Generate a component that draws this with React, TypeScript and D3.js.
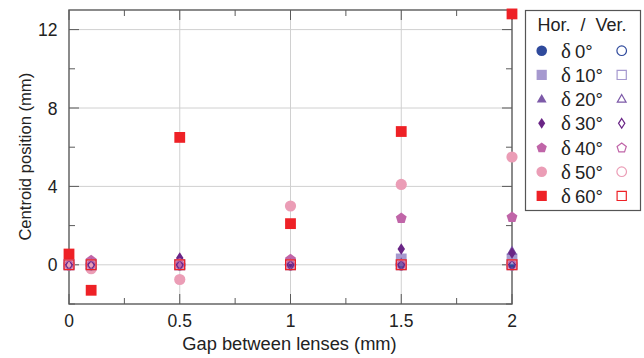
import React from "react";
import * as d3 from "d3";

const gaps = [0, 0.1, 0.5, 1, 1.5, 2];
const labels = ["0°", "10°", "20°", "30°", "40°", "50°", "60°"];
const colors = ["#2f4a9c", "#a699cf", "#7d5aa8", "#6a2586", "#c065a8", "#eb9db6", "#ee2126"];
const shapes = ["circle", "square", "triangle", "diamond", "pentagon", "circle", "square"];
const hor0 = [0, 0, 0, 0, 0, 0];
const hor10 = [0, 0, 0, 0.05, 0.3, 0.3];
const hor20 = [0, 0.1, 0.1, 0.1, 0.1, 0.7];
const hor30 = [0, 0.1, 0.35, 0.1, 0.8, 0.6];
const hor40 = [0, 0.25, 0.1, 0.3, 2.4, 2.45];
const hor50 = [0, -0.2, -0.75, 3.0, 4.1, 5.5];
const hor60 = [0.55, -1.3, 6.5, 2.1, 6.8, 12.8];
const ver0 = [0, 0, 0, 0, 0, 0];
const ver10 = [0, 0, 0, 0, 0, 0];
const ver20 = [0, 0, 0, 0, 0, 0];
const ver30 = [0, 0, 0, 0, 0, 0];
const ver40 = [0, 0, 0, 0, 0, 0];
const ver50 = [0, 0, 0, 0, 0, 0];
const ver60 = [0, 0, 0, 0, 0, 0];
const horSeries = [hor0, hor10, hor20, hor30, hor40, hor50, hor60];
const verSeries = [ver0, ver10, ver20, ver30, ver40, ver50, ver60];
const xMajor = [0, 0.5, 1, 1.5, 2];
const xMinor = [0.25, 0.75, 1.25, 1.75];
const yMajor = [0, 4, 8, 12];
const yMinor = [-2, 2, 6, 10];

const W = 644, H = 358;
const M = { left: 69, right: 512, top: 10, bottom: 304 };

function shapePath(shape: string, r: number): string {
  if (shape === "circle") {
    return `M${r},0A${r},${r},0,1,1,${-r},0A${r},${r},0,1,1,${r},0Z`;
  }
  if (shape === "square") {
    return `M${-r},${-r}H${r}V${r}H${-r}Z`;
  }
  if (shape === "triangle") {
    const h = r * 1.1;
    return `M0,${-h}L${h * 0.95},${h * 0.65}L${-h * 0.95},${h * 0.65}Z`;
  }
  if (shape === "diamond") {
    return `M0,${-r * 1.15}L${r * 0.75},0L0,${r * 1.15}L${-r * 0.75},0Z`;
  }
  const pts = d3.range(5).map((i) => {
    const a = -Math.PI / 2 + (i * 2 * Math.PI) / 5;
    return [r * 1.1 * Math.cos(a), r * 1.1 * Math.sin(a) + r * 0.1];
  });
  return "M" + pts.map((p) => p.join(",")).join("L") + "Z";
}

const sizeFor = (shape: string) =>
  shape === "circle" ? 5.6 : shape === "square" ? 5.4 : shape === "triangle" ? 5 : shape === "diamond" ? 5 : 5.2;

export default function App() {
  const x = d3.scaleLinear().domain([0, 2]).range([M.left, M.right]);
  const y = d3.scaleLinear().domain([-2, 13]).range([M.bottom, M.top]);
  const axisColor = "#5a5a5a";
  const gridColor = "#d0d0d0";
  const font = "'Liberation Sans', Arial, Helvetica, sans-serif";
  const legendRows = labels.map((_, i) => 50.7 + i * 24.2);

  return (
    <svg width={W} height={H} style={{ position: "absolute", left: 0, top: 0, background: "#fff" }} fontFamily={font}>
      {/* grid */}
      {xMajor.filter((v) => v > 0 && v < 2).map((v) => (
        <line key={"gx" + v} x1={x(v)} x2={x(v)} y1={M.top} y2={M.bottom} stroke={gridColor} strokeWidth={1} />
      ))}
      {yMajor.map((v) => (
        <line key={"gy" + v} x1={M.left} x2={M.right} y1={y(v)} y2={y(v)} stroke={gridColor} strokeWidth={1} />
      ))}
      {/* ticks */}
      {xMajor.map((v) => (
        <g key={"txM" + v}>
          <line x1={x(v)} x2={x(v)} y1={M.bottom} y2={M.bottom - 10} stroke={axisColor} />
          <line x1={x(v)} x2={x(v)} y1={M.top} y2={M.top + 10} stroke={axisColor} />
        </g>
      ))}
      {xMinor.map((v) => (
        <g key={"txm" + v}>
          <line x1={x(v)} x2={x(v)} y1={M.bottom} y2={M.bottom - 6} stroke={axisColor} />
          <line x1={x(v)} x2={x(v)} y1={M.top} y2={M.top + 6} stroke={axisColor} />
        </g>
      ))}
      {yMajor.map((v) => (
        <g key={"tyM" + v}>
          <line x1={M.left} x2={M.left + 10} y1={y(v)} y2={y(v)} stroke={axisColor} />
          <line x1={M.right} x2={M.right - 10} y1={y(v)} y2={y(v)} stroke={axisColor} />
        </g>
      ))}
      {yMinor.map((v) => (
        <g key={"tym" + v}>
          <line x1={M.left} x2={M.left + 6} y1={y(v)} y2={y(v)} stroke={axisColor} />
          <line x1={M.right} x2={M.right - 6} y1={y(v)} y2={y(v)} stroke={axisColor} />
        </g>
      ))}
      <rect x={M.left} y={M.top} width={M.right - M.left} height={M.bottom - M.top} fill="none" stroke={axisColor} strokeWidth={1.4} />
      {/* tick labels */}
      {xMajor.map((v) => (
        <text key={"lx" + v} x={x(v)} y={327} textAnchor="middle" fontSize={17.5} fill="#222">{String(v)}</text>
      ))}
      {yMajor.map((v) => (
        <text key={"ly" + v} x={57.5} y={y(v) + 6.5} textAnchor="end" fontSize={17.5} fill="#222">{String(v)}</text>
      ))}
      <text x={289.5} y={349.5} textAnchor="middle" fontSize={18.3} fill="#222">Gap between lenses (mm)</text>
      <text transform={`translate(31,156.7) rotate(-90)`} textAnchor="middle" fontSize={16.6} fill="#222">Centroid position (mm)</text>
      {/* filled markers */}
      {horSeries.map((s, i) =>
        s.map((v, j) => (
          <path key={`h${i}-${j}`} d={shapePath(shapes[i], sizeFor(shapes[i]))} transform={`translate(${x(gaps[j])},${y(v)})`} fill={colors[i]} />
        ))
      )}
      {/* hollow markers */}
      {verSeries.map((s, i) =>
        s.map((v, j) => (
          <path key={`v${i}-${j}`} d={shapePath(shapes[i], sizeFor(shapes[i]) - 0.5)} transform={`translate(${x(gaps[j])},${y(v)})`} fill="none" stroke={colors[i]} strokeWidth={1.2} />
        ))
      )}
      {/* legend */}
      <rect x={525.5} y={10.5} width={115} height={200} fill="#fff" stroke="#555" strokeWidth={1.2} />
      <text x={582} y={31} textAnchor="middle" fontSize={18} fill="#222" style={{ whiteSpace: "pre" }}>{"Hor.  /  Ver."}</text>
      {labels.map((lab, i) => (
        <g key={"lg" + i}>
          <path d={shapePath(shapes[i], sizeFor(shapes[i]) - 0.3)} transform={`translate(541.7,${legendRows[i]})`} fill={colors[i]} />
          <text x={561} y={legendRows[i] + 7} fontSize={18.5} fill="#222">
            <tspan fontFamily="'Liberation Serif', 'DejaVu Serif', serif" fontSize={21}>δ</tspan>
            <tspan dx={4}>{lab}</tspan>
          </text>
          <path d={shapePath(shapes[i], sizeFor(shapes[i]) - 0.8)} transform={`translate(621.7,${legendRows[i]})`} fill="none" stroke={colors[i]} strokeWidth={1.2} />
        </g>
      ))}
    </svg>
  );
}
